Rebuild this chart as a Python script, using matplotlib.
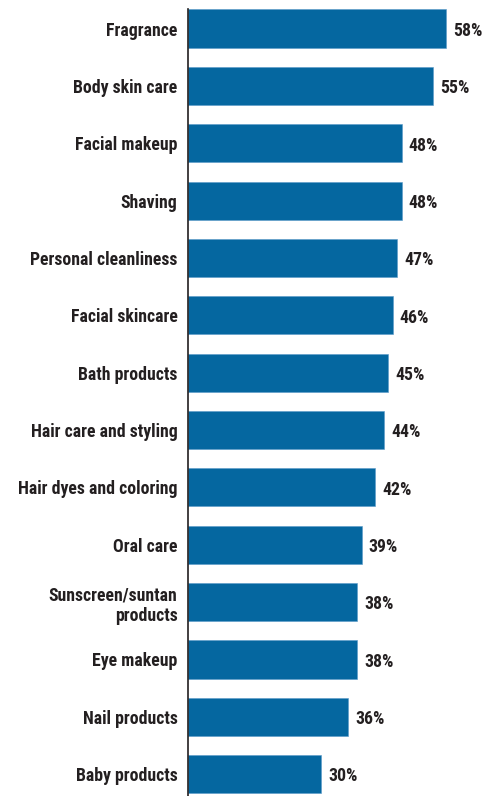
import matplotlib
matplotlib.use("Agg")
import matplotlib.pyplot as plt
from matplotlib import font_manager

categories = [
    "Fragrance",
    "Body skin care",
    "Facial makeup",
    "Shaving",
    "Personal cleanliness",
    "Facial skincare",
    "Bath products",
    "Hair care and styling",
    "Hair dyes and coloring",
    "Oral care",
    "Sunscreen/suntan\nproducts",
    "Eye makeup",
    "Nail products",
    "Baby products",
]
values = [58, 55, 48, 48, 47, 46, 45, 44, 42, 39, 38, 38, 36, 30]
value_labels = [f"{v}%" for v in values]

# Prefer a condensed bold face for the labels
names = {f.name for f in font_manager.fontManager.ttflist}
for cand in ["Liberation Sans Narrow", "DejaVu Sans Condensed", "Roboto Condensed", "Open Sans Condensed"]:
    if cand in names:
        label_font = cand
        break
else:
    label_font = "DejaVu Sans"
plt.rcParams["font.family"] = [label_font, "DejaVu Sans"]
plt.rcParams["font.stretch"] = "condensed"

BAR_COLOR = "#0567a0"
TEXT_COLOR = "#231f20"

fig = plt.figure(figsize=(4.87, 7.96), dpi=100)
ax = fig.add_axes([188 / 487, 0, 1 - 188 / 487, 1])

pos = list(range(len(categories)))
bar_h = 0.665
ax.barh(pos, values, height=bar_h, color=BAR_COLOR, edgecolor="#5a9ac8", linewidth=0.4)

ax.set_xlim(0, 67.2)
ax.set_ylim(13.38, -0.497)

fs = 12.8
for p, v, lab in zip(pos, values, value_labels):
    ax.text(v + 1.6, p + 0.04, lab, va="center", ha="left", fontsize=fs,
            fontweight="semibold", color=TEXT_COLOR)

ax.set_yticks(pos)
ax.set_yticklabels(categories, fontsize=fs, fontweight="semibold", color=TEXT_COLOR,
                   linespacing=1.2)
ax.tick_params(axis="y", length=0, pad=7.5)
ax.set_xticks([])

for s in ["top", "right", "bottom"]:
    ax.spines[s].set_visible(False)
ax.spines["left"].set_color("#231f20")
ax.spines["left"].set_linewidth(1.2)
ax.spines["left"].set_bounds(-bar_h / 2, 13.38)

fig.savefig("out.png", dpi=100)
